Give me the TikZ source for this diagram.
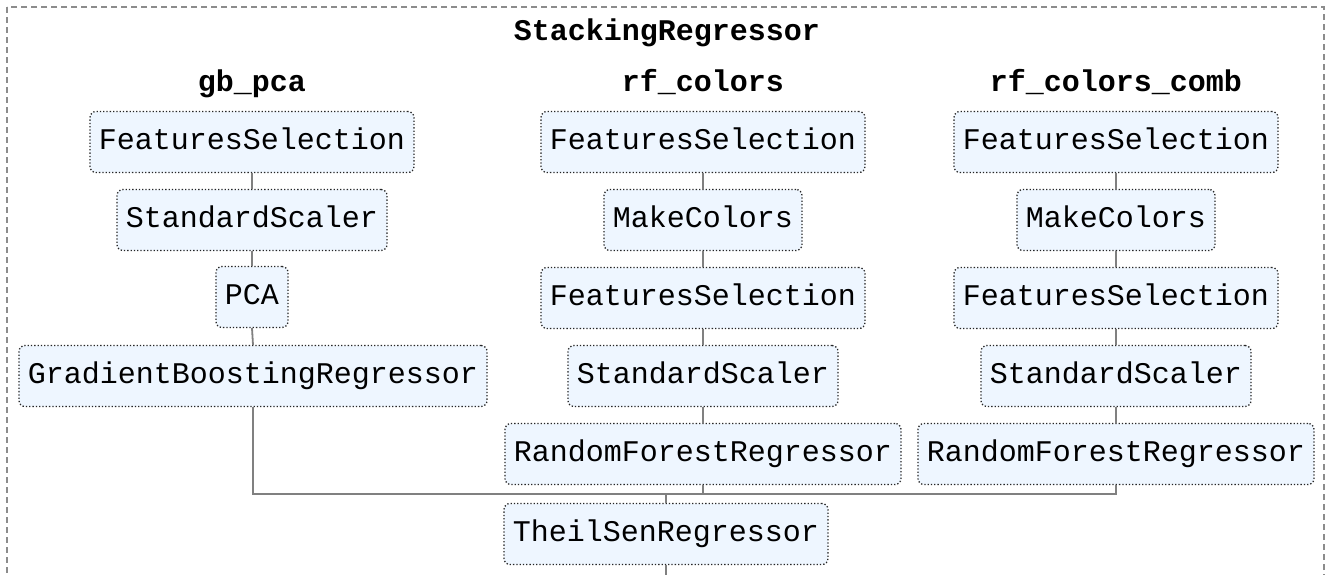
\documentclass[tikz,border=0pt]{standalone}
\usepackage{fontspec}
\setmonofont{Liberation Mono}
\definecolor{boxfill}{HTML}{EEF6FF}
\definecolor{linegray}{HTML}{808080}
\definecolor{framegray}{HTML}{8C8C8C}
\tikzset{
  est/.style={draw=black!85, dotted, line width=1.3pt, fill=boxfill, rounded corners=6pt,
    minimum height=61pt, inner xsep=9pt, inner ysep=0pt, text height=21pt, text depth=6pt,
    font=\ttfamily\fontsize{30}{36}\selectfont},
  hdr/.style={font=\ttfamily\bfseries\fontsize{30}{36}\selectfont, inner sep=0pt, text height=21pt, text depth=6pt},
  conn/.style={draw=linegray, line width=1.8pt}
}
\begin{document}
\begin{tikzpicture}[x=1pt,y=-1pt]
\useasboundingbox (0,0) rectangle (1333,574);
\clip (0,0) rectangle (1333,574);
\draw[framegray, line width=1.5pt, dash pattern=on 6pt off 4pt] (7,7) rectangle (1324,620);
\node[hdr] (title) at (667,33) {StackingRegressor};
\node[hdr] (h1) at (252,84) {gb\_pca};
\node[hdr] (h2) at (703,84) {rf\_colors};
\node[hdr] (h3) at (1116,84) {rf\_colors\_comb};
% column 1
\node[est] (g1) at (252,142) {FeaturesSelection};
\node[est] (g2) at (252,220) {StandardScaler};
\node[est] (g3) at (252,297) {PCA};
\node[est] (g4) at (253,376) {GradientBoostingRegressor};
% column 2
\node[est] (r1) at (703,142) {FeaturesSelection};
\node[est] (r2) at (703,220) {MakeColors};
\node[est] (r3) at (703,298) {FeaturesSelection};
\node[est] (r4) at (703,376) {StandardScaler};
\node[est] (r5) at (703,454) {RandomForestRegressor};
% column 3
\node[est] (c1) at (1116,142) {FeaturesSelection};
\node[est] (c2) at (1116,220) {MakeColors};
\node[est] (c3) at (1116,298) {FeaturesSelection};
\node[est] (c4) at (1116,376) {StandardScaler};
\node[est] (c5) at (1116,454) {RandomForestRegressor};
% final
\node[est] (t) at (666,534) {TheilSenRegressor};
\coordinate (join) at (666,494);
\coordinate (bottom) at (666,580);
% connectors
\draw[conn] (g1.south) -- (g2.north);
\draw[conn] (g2.south) -- (g3.north);
\draw[conn] (g3.south) -- (g4.north);
\draw[conn] (r1.south) -- (r2.north);
\draw[conn] (r2.south) -- (r3.north);
\draw[conn] (r3.south) -- (r4.north);
\draw[conn] (r4.south) -- (r5.north);
\draw[conn] (c1.south) -- (c2.north);
\draw[conn] (c2.south) -- (c3.north);
\draw[conn] (c3.south) -- (c4.north);
\draw[conn] (c4.south) -- (c5.north);
\draw[conn] (g4.south) |- (join) -| (c5.south);
\draw[conn] (r5.south) -- (r5.south |- join);
\draw[conn] (join) -- (t.north);
\draw[conn] (t.south) -- (bottom);
\end{tikzpicture}
\end{document}
